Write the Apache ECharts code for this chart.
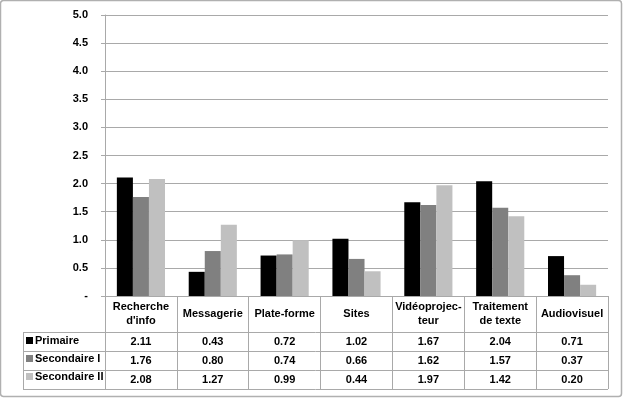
<!DOCTYPE html>
<html>
<head>
<meta charset="utf-8">
<script src="https://cdn.jsdelivr.net/npm/echarts@6/dist/echarts.min.js"></script>
<style>
  html, body { margin: 0; padding: 0; background: #fff; }
  #chart { width: 624px; height: 398px; }
</style>
</head>
<body>
<div id="chart"></div>
<script>
const categories = ["Recherche\nd'info", "Messagerie", "Plate-forme", "Sites", "Vidéoprojec-\nteur", "Traitement\nde texte", "Audiovisuel"];
const seriesNames = ["Primaire", "Secondaire I", "Secondaire II"];
const primaire = [2.11, 0.43, 0.72, 1.02, 1.67, 2.04, 0.71];
const secondaireI = [1.76, 0.80, 0.74, 0.66, 1.62, 1.57, 0.37];
const secondaireII = [2.08, 1.27, 0.99, 0.44, 1.97, 1.42, 0.20];

const font = "'Liberation Sans', Arial, sans-serif";
const colors = {
  primaire: "#000000",
  secI: "#808080",
  secII: "#c0c0c0",
  grid: "#a9a9a9",
  border: "#b0b0b0",
};

// plot box in pixels
const gLeft = 105, gRight = 608, gTop = 15, gBottom = 296;
const rowLines = [332, 351, 370, 389];
const tableLeft = 23;

const allSeries = [primaire, secondaireI, secondaireII];
const seriesColors = [colors.primaire, colors.secI, colors.secII];

const textStyle = { fontFamily: font, fontWeight: "bold", fontSize: 11, color: "#000" };

// table rows drawn as extra category axes (one per series)
const rowAxes = allSeries.map((vals, i) => ({
  type: "category",
  gridIndex: 0,
  position: "bottom",
  data: vals.map(v => v.toFixed(2)),
  axisLine: { show: false },
  axisTick: { show: false },
  axisLabel: {
    ...textStyle,
    interval: 0,
    margin: (rowLines[i] + rowLines[i + 1]) / 2 - gBottom,
    verticalAlign: "middle",
  },
}));

const lines = [];
rowLines.forEach(y => {
  lines.push({
    type: "line",
    shape: { x1: tableLeft, y1: y + 0.5, x2: gRight, y2: y + 0.5 },
    style: { stroke: colors.grid, lineWidth: 1 },
    silent: true,
  });
});
lines.push({
  type: "line",
  shape: { x1: tableLeft + 0.5, y1: rowLines[0], x2: tableLeft + 0.5, y2: rowLines[3] },
  style: { stroke: colors.grid, lineWidth: 1 },
  silent: true,
});
// outer frame
lines.push({
  type: "rect",
  shape: { x: 0.5, y: 0.5, width: 621, height: 396, r: 3 },
  style: { fill: "none", stroke: colors.border, lineWidth: 1.5 },
  silent: true,
});

const option = {
  animation: false,
  backgroundColor: "#fff",
  grid: {
    left: gLeft,
    right: 624 - gRight,
    top: gTop,
    bottom: 398 - gBottom,
    containLabel: false,
  },
  legend: {
    orient: "vertical",
    left: 26,
    top: rowLines[0] + 3,
    icon: "rect",
    itemWidth: 7,
    itemHeight: 7,
    itemGap: 7,
    padding: 0,
    textStyle: { ...textStyle, padding: [0, 0, 0, -3] },
    data: seriesNames,
  },
  xAxis: [
    {
      type: "category",
      data: categories,
      axisLine: { show: true, lineStyle: { color: colors.grid, width: 1 } },
      axisTick: {
        show: true,
        interval: 0,
        length: rowLines[3] - gBottom,
        lineStyle: { color: colors.grid, width: 1 },
      },
      axisLabel: {
        ...textStyle,
        interval: 0,
        margin: (rowLines[0] - gBottom) / 2,
        verticalAlign: "middle",
        lineHeight: 14,
      },
    },
    ...rowAxes,
  ],
  yAxis: {
    type: "value",
    min: 0,
    max: 5,
    interval: 0.5,
    axisLine: { show: true, lineStyle: { color: colors.grid, width: 1 } },
    axisTick: { show: true, length: 4, lineStyle: { color: colors.grid } },
    splitLine: { show: true, lineStyle: { color: colors.grid, width: 1 } },
    axisLabel: {
      ...textStyle,
      margin: 17,
      formatter: v => (v === 0 ? "-" : v.toFixed(1)),
    },
  },
  series: allSeries.map((vals, i) => ({
    name: seriesNames[i],
    type: "bar",
    data: vals,
    barGap: "0%",
    barCategoryGap: "33%",
    itemStyle: { color: seriesColors[i] },
  })),
  graphic: lines,
};

const chart = echarts.init(document.getElementById("chart"), null, { renderer: "canvas" });
chart.setOption(option);
</script>
</body>
</html>
